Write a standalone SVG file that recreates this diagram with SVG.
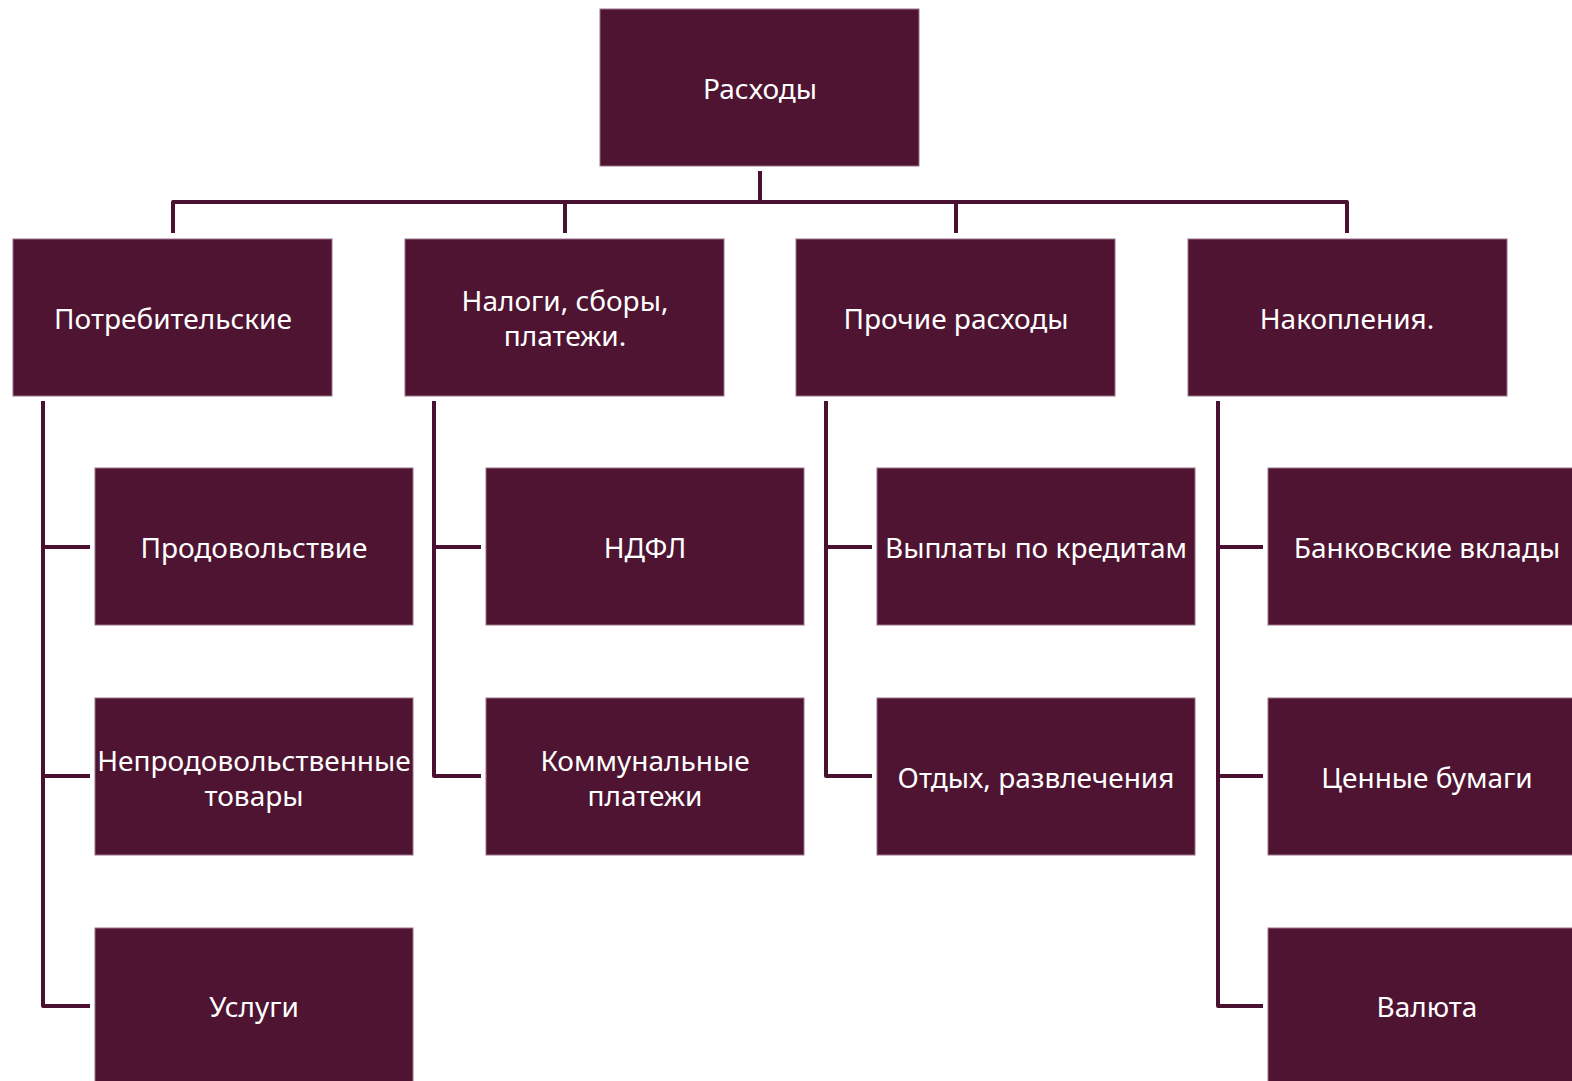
<svg xmlns="http://www.w3.org/2000/svg" width="1572" height="1081" viewBox="0 0 1572 1081">
<style>
.box{fill:#4e1431;stroke:#9c7089;stroke-width:1}
.t{fill:#ffffff;font-family:"Noto Sans","Open Sans","Liberation Sans",sans-serif;font-size:28px;text-anchor:middle;dominant-baseline:central}
.c{fill:none;stroke:#4a1230;stroke-width:4;stroke-linejoin:round}
</style>
<rect width="1572" height="1081" fill="#ffffff"/>
<g id="connectors">
<path class="c" d="M760,171 V202"/>
<path class="c" d="M173,233 V202 H1347 V233"/>
<path class="c" d="M565,202 V233"/>
<path class="c" d="M956,202 V233"/>
<path class="c" d="M43,401 V1006 H90"/>
<path class="c" d="M43,547 H90"/>
<path class="c" d="M43,776 H90"/>
<path class="c" d="M434,401 V776 H481"/>
<path class="c" d="M434,547 H481"/>
<path class="c" d="M826,401 V776 H872"/>
<path class="c" d="M826,547 H872"/>
<path class="c" d="M1218,401 V1006 H1263"/>
<path class="c" d="M1218,547 H1263"/>
<path class="c" d="M1218,776 H1263"/>
</g>
<g id="n-root"><rect class="box" x="600" y="9" width="319" height="157"/><text class="t" x="760" y="88">Расходы</text></g>
<g id="n-potreb"><rect class="box" x="13" y="239" width="319" height="157"/><text class="t" x="173" y="318">Потребительские</text></g>
<g id="n-nalogi"><rect class="box" x="405" y="239" width="319" height="157"/><text class="t" x="565" y="300">Налоги, сборы,</text><text class="t" x="565" y="335">платежи.</text></g>
<g id="n-prochie"><rect class="box" x="796" y="239" width="319" height="157"/><text class="t" x="956" y="318">Прочие расходы</text></g>
<g id="n-nakop"><rect class="box" x="1188" y="239" width="319" height="157"/><text class="t" x="1347" y="318">Накопления.</text></g>
<g id="n-prod"><rect class="box" x="95" y="468" width="318" height="157"/><text class="t" x="254" y="547">Продовольствие</text></g>
<g id="n-neprod"><rect class="box" x="95" y="698" width="318" height="157"/><text class="t" x="254" y="760">Непродовольственные</text><text class="t" x="254" y="795">товары</text></g>
<g id="n-uslugi"><rect class="box" x="95" y="928" width="318" height="160"/><text class="t" x="254" y="1006">Услуги</text></g>
<g id="n-ndfl"><rect class="box" x="486" y="468" width="318" height="157"/><text class="t" x="645" y="547">НДФЛ</text></g>
<g id="n-komm"><rect class="box" x="486" y="698" width="318" height="157"/><text class="t" x="645" y="760">Коммунальные</text><text class="t" x="645" y="795">платежи</text></g>
<g id="n-kredit"><rect class="box" x="877" y="468" width="318" height="157"/><text class="t" x="1036" y="547">Выплаты по кредитам</text></g>
<g id="n-otdyh"><rect class="box" x="877" y="698" width="318" height="157"/><text class="t" x="1036" y="777">Отдых, развлечения</text></g>
<g id="n-bank"><rect class="box" x="1268" y="468" width="318" height="157"/><text class="t" x="1427" y="547">Банковские вклады</text></g>
<g id="n-cennye"><rect class="box" x="1268" y="698" width="318" height="157"/><text class="t" x="1427" y="777">Ценные бумаги</text></g>
<g id="n-valuta"><rect class="box" x="1268" y="928" width="318" height="160"/><text class="t" x="1427" y="1006">Валюта</text></g>
</svg>
